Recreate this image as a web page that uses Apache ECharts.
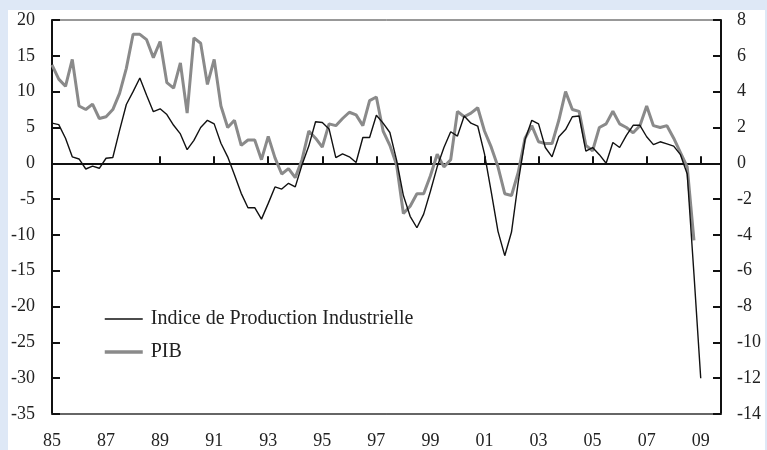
<!DOCTYPE html>
<html>
<head>
<meta charset="utf-8">
<script src="https://cdn.jsdelivr.net/npm/echarts@6/dist/echarts.min.js"></script>
<style>
  html, body { margin: 0; padding: 0; background: #DEE8F6; }
  #chart { position: absolute; left: 8px; top: 10px; width: 757px; height: 440px; background: #ffffff; }
</style>
</head>
<body>
<div id="chart"></div>
<script>
// Years shown on the axis (quarterly data, 1985Q1 .. 2009Q4)
const years = ["85","86","87","88","89","90","91","92","93","94","95","96","97","98","99","00","01","02","03","04","05","06","07","08","09"];
const quarters = ["T1","T2","T3","T4"];

// Indice de Production Industrielle (glissement annuel, %, échelle de gauche)
const ipi = [5.6,5.4,3.5,0.9,0.6,-0.8,-0.4,-0.7,0.7,0.8,
  4.6,8.2,10.0,11.9,9.5,7.2,7.6,6.8,5.3,4.1,
  1.9,3.2,5.0,6.0,5.5,2.8,0.9,-1.6,-4.2,-6.2,
  -6.2,-7.8,-5.6,-3.3,-3.6,-2.8,-3.3,-0.2,2.4,5.8,
  5.7,4.8,0.8,1.3,0.9,0.1,3.6,3.6,6.7,5.6,
  4.3,0.4,-4.5,-7.4,-9.0,-7.1,-3.9,-0.5,2.2,4.4,
  3.8,6.6,5.6,5.2,1.3,-4.0,-9.5,-12.9,-9.6,-2.6,
  3.3,6.0,5.5,2.2,0.9,3.7,4.7,6.5,6.6,1.7,
  2.2,1.2,0.0,2.9,2.2,3.9,5.3,5.3,3.7,2.6,
  3.0,2.7,2.4,1.2,-1.5,-15.5,-30.0];

// PIB (glissement annuel, %, échelle de droite)
const pib = [5.5,4.7,4.3,5.8,3.2,3.0,3.3,2.5,2.6,3.0,
  3.9,5.3,7.2,7.2,6.9,5.9,6.8,4.5,4.2,5.6,
  2.8,7.0,6.7,4.4,5.8,3.2,2.0,2.4,1.0,1.3,
  1.3,0.2,1.5,0.3,-0.6,-0.3,-0.8,0.2,1.8,1.4,
  0.9,2.2,2.1,2.5,2.85,2.7,2.1,3.5,3.7,1.8,
  1.0,-0.1,-2.8,-2.4,-1.7,-1.7,-0.7,0.5,-0.2,0.2,
  2.9,2.6,2.8,3.1,1.8,0.9,-0.2,-1.7,-1.8,-0.5,
  1.4,2.1,1.2,1.1,1.1,2.4,4.0,3.0,2.9,1.0,
  0.7,2.0,2.2,2.9,2.2,2.0,1.7,2.1,3.2,2.1,
  2.0,2.1,1.4,0.6,-0.2,-4.3];

const leftTicks = { min: -35, max: 20, interval: 5 };
const rightTicks = { min: -14, max: 8, interval: 2 };
const seriesNames = ["Indice de Production Industrielle", "PIB"];

const categories = [];
years.forEach(y => quarters.forEach(q => categories.push(y + q)));

const FONT = "Liberation Serif";
const IPI_COLOR = '#111';
const PIB_COLOR = '#8a8a8a';
const chart = echarts.init(document.getElementById('chart'), null, { renderer: 'canvas' });

chart.setOption({
  animation: false,
  backgroundColor: '#ffffff',
  grid: { left: 42, right: 44, top: 10, bottom: 36, show: true, borderColor: '#333', borderWidth: 1, backgroundColor: 'transparent' },
  legend: {
    orient: 'vertical',
    left: 90,
    top: 294,
    itemWidth: 38,
    itemHeight: 14,
    itemGap: 13,
    data: [
      { name: seriesNames[0], itemStyle: { opacity: 0 }, lineStyle: { color: IPI_COLOR, width: 1.6 } },
      { name: seriesNames[1], itemStyle: { opacity: 0 }, lineStyle: { color: PIB_COLOR, width: 3.5 } }
    ],
    textStyle: { fontFamily: FONT, fontSize: 20, color: '#222', lineHeight: 20, padding: [0, 0, 0, 3] }
  },
  xAxis: [
    {
      type: 'category',
      data: categories,
      boundaryGap: false,
      position: 'bottom',
      axisLine: { onZero: false, lineStyle: { color: '#555', width: 1.5 } },
      axisTick: { show: false },
      axisLabel: {
        interval: 7,
        margin: 18,
        fontFamily: FONT,
        fontSize: 18,
        color: '#222',
        formatter: v => v.slice(0, 2)
      },
      splitLine: { show: false }
    },
    {
      type: 'category',
      data: categories,
      boundaryGap: false,
      position: 'bottom',
      axisLine: { onZero: true, onZeroAxisIndex: 0, lineStyle: { color: '#111', width: 2 } },
      axisTick: {
        show: true,
        inside: true,
        length: 7,
        lineStyle: { color: '#111', width: 2 },
        interval: (i) => i % 8 === 0 && i >= 16
      },
      axisLabel: { show: false },
      splitLine: { show: false }
    }
  ],
  yAxis: [
    {
      type: 'value',
      position: 'left',
      min: leftTicks.min, max: leftTicks.max, interval: leftTicks.interval,
      axisLine: { show: true, onZero: false, lineStyle: { color: '#111', width: 2 } },
      axisTick: { show: true, inside: true, length: 8, lineStyle: { color: '#111', width: 2 } },
      axisLabel: { margin: 17, fontFamily: FONT, fontSize: 18, color: '#222' },
      splitLine: { show: false }
    },
    {
      type: 'value',
      position: 'right',
      min: rightTicks.min, max: rightTicks.max, interval: rightTicks.interval,
      axisLine: { show: true, onZero: false, lineStyle: { color: '#111', width: 2 } },
      axisTick: { show: true, inside: true, length: 8, lineStyle: { color: '#111', width: 2 } },
      axisLabel: { margin: 16, fontFamily: FONT, fontSize: 18, color: '#222' },
      splitLine: { show: false }
    }
  ],
  series: [
    {
      name: seriesNames[0],
      type: 'line',
      xAxisIndex: 0,
      yAxisIndex: 0,
      data: ipi,
      symbol: 'none',
      z: 4,
      color: IPI_COLOR,
      lineStyle: { color: IPI_COLOR, width: 1.4 }
    },
    {
      name: seriesNames[1],
      type: 'line',
      xAxisIndex: 0,
      yAxisIndex: 1,
      data: pib,
      symbol: 'none',
      z: 3,
      color: PIB_COLOR,
      lineStyle: { color: PIB_COLOR, width: 3 }
    }
  ]
});
</script>
</body>
</html>
